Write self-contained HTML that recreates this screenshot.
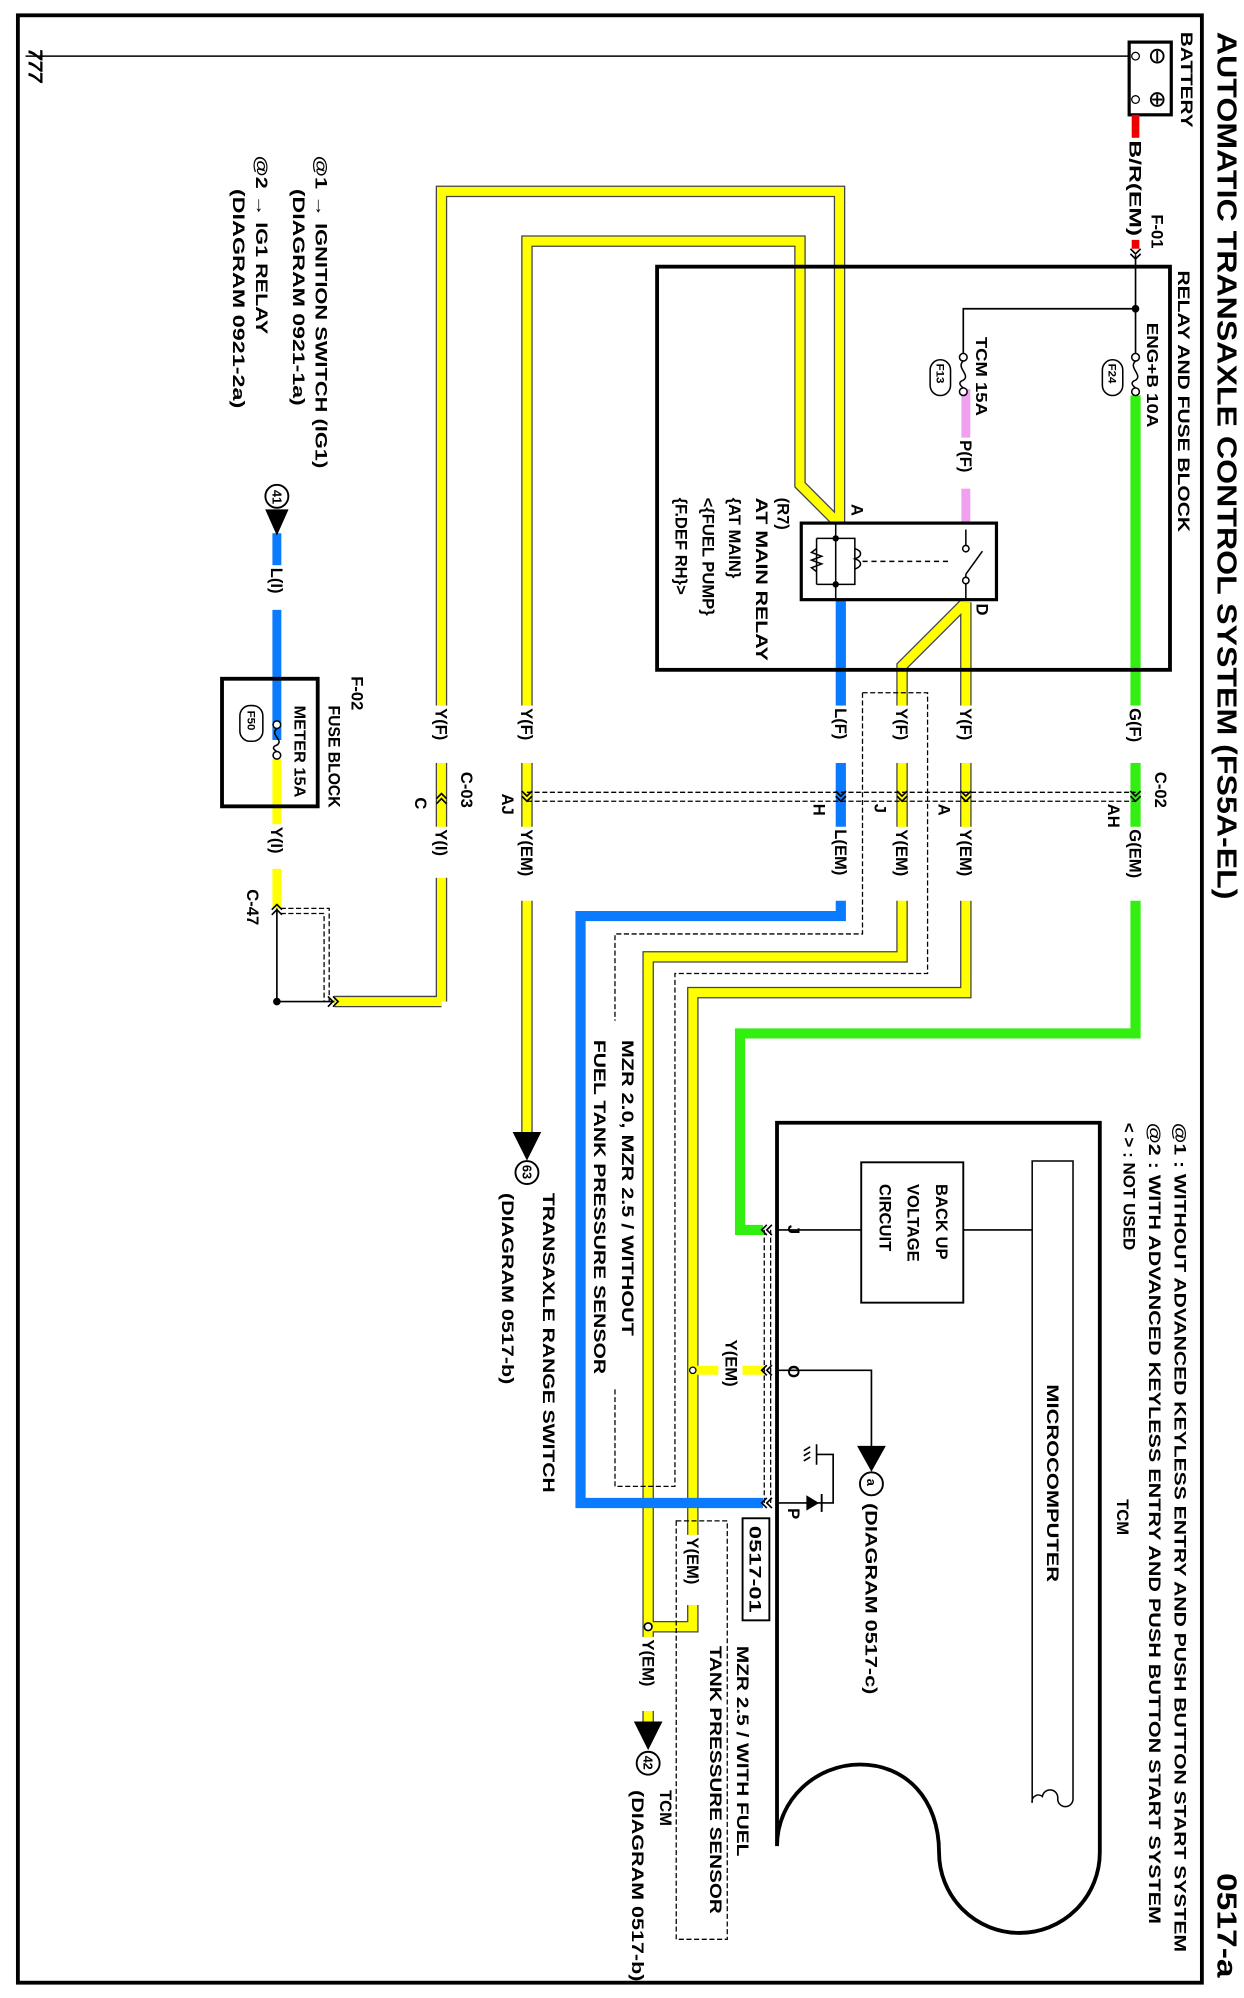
<!DOCTYPE html>
<html><head><meta charset="utf-8"><style>
html,body{margin:0;padding:0;background:#fff;}
svg{display:block;}
text{font-family:"Liberation Sans",sans-serif;font-weight:bold;fill:#000;}
</style></head><body>
<svg width="1244" height="1998" viewBox="0 0 975 1566" xmlns="http://www.w3.org/2000/svg">
<defs>
<g id="chevD"><polyline points="-4,-5 0,-1 4,-5" fill="none" stroke="#000" stroke-width="1.3"/><polyline points="-4,-1 0,3 4,-1" fill="none" stroke="#000" stroke-width="1.3"/></g>
<g id="chevL"><polyline points="5,-4 1,0 5,4" fill="none" stroke="#000" stroke-width="1.3"/><polyline points="9,-4 5,0 9,4" fill="none" stroke="#000" stroke-width="1.3"/></g>
</defs>
<rect x="14" y="12" width="928" height="1542" fill="none" stroke="#000" stroke-width="3"/>

<line x1="20" y1="44" x2="885" y2="44" stroke="#000" stroke-width="1.2"/>
<rect x="885" y="33" width="33" height="57" fill="#fff" stroke="#000" stroke-width="2.5"/>
<circle cx="890" cy="44" r="3" fill="#fff" stroke="#000"/><circle cx="890" cy="78" r="3" fill="#fff" stroke="#000"/>
<circle cx="907" cy="44" r="5" fill="none" stroke="#000" stroke-width="1.5"/><line x1="907" y1="40" x2="907" y2="48" stroke="#000" stroke-width="1.5"/>
<circle cx="907" cy="78" r="5" fill="none" stroke="#000" stroke-width="1.5"/><line x1="907" y1="74" x2="907" y2="82" stroke="#000" stroke-width="1.5"/><line x1="903" y1="78" x2="911" y2="78" stroke="#000" stroke-width="1.5"/>
<line x1="890" y1="90" x2="890" y2="195" stroke="#e00" stroke-width="6"/>
<use href="#chevD" x="890" y="200"/>

<g fill="none" stroke-linejoin="miter">
<path d="M346,785 L346,150 L658,150 L658,410" stroke="#444" stroke-width="9"/>
<path d="M413,900 L413,189 L627,189 L627,380 L655,408" stroke="#444" stroke-width="9"/>
<path d="M757,472 L707,522 L707,750 L508,750 L508,1360" stroke="#444" stroke-width="9"/>
<path d="M757,472 L757,778 L543,778 L543,1275 L508,1275" stroke="#444" stroke-width="9"/>
<path d="M262,785 L346,785" stroke="#444" stroke-width="9"/>
<path d="M346,785 L346,150 L658,150 L658,410" stroke="#ff0" stroke-width="7"/>
<path d="M413,900 L413,189 L627,189 L627,380 L655,408" stroke="#ff0" stroke-width="7"/>
<path d="M757,472 L707,522 L707,750 L508,750 L508,1360" stroke="#ff0" stroke-width="7"/>
<path d="M757,472 L757,778 L543,778 L543,1275 L508,1275" stroke="#ff0" stroke-width="7"/>
<path d="M262,785 L346,785" stroke="#ff0" stroke-width="7"/>
<line x1="543" y1="1074" x2="563" y2="1074" stroke="#ff0" stroke-width="7"/>
<line x1="582" y1="1074" x2="598" y2="1074" stroke="#ff0" stroke-width="7"/>
<line x1="217" y1="595" x2="217" y2="712" stroke="#ff0" stroke-width="7"/>
<path d="M659,470 L659,718 L455,718 L455,1178 L598,1178" stroke="#0a7bff" stroke-width="8"/>
<line x1="217" y1="418" x2="217" y2="580" stroke="#0a7bff" stroke-width="7"/>
<path d="M890,310 L890,810 L580,810 L580,964 L598,964" stroke="#33ee11" stroke-width="8"/>
<line x1="757" y1="305" x2="757" y2="415" stroke="#f0a0f0" stroke-width="7"/>
</g>

<g fill="#fff">
<rect x="880" y="108" width="20" height="80"/>
<rect x="750" y="343" width="16" height="40"/>
<rect x="880" y="553" width="22" height="45"/><rect x="880" y="648" width="22" height="58"/>
<rect x="748" y="553" width="20" height="45"/><rect x="748" y="648" width="20" height="58"/>
<rect x="698" y="553" width="20" height="45"/><rect x="698" y="648" width="20" height="58"/>
<rect x="650" y="553" width="20" height="45"/><rect x="650" y="648" width="20" height="58"/>
<rect x="404" y="553" width="20" height="45"/><rect x="404" y="648" width="20" height="58"/>
<rect x="337" y="553" width="20" height="45"/><rect x="337" y="648" width="20" height="40"/>
<rect x="208" y="443" width="20" height="35"/><rect x="208" y="646" width="20" height="35"/>
<rect x="534" y="1203" width="20" height="55"/><rect x="499" y="1283" width="20" height="58"/>
</g>

<rect x="515" y="209" width="402" height="316" fill="none" stroke="#000" stroke-width="3"/>
<polyline points="890,200 890,277" fill="none" stroke="#000" stroke-width="1.3"/>
<polyline points="755,277 755,242 890,242" fill="none" stroke="#000" stroke-width="1.3"/>
<circle cx="890" cy="242" r="3"/>
<g fill="#fff" stroke="#000" stroke-width="1.2">
<circle cx="890" cy="280" r="3"/><circle cx="890" cy="307" r="3"/>
<path d="M890,283 C884,288 896,294 890,298 C884,300 890,304 890,304" fill="none"/>
<circle cx="755" cy="280" r="3"/><circle cx="755" cy="307" r="3"/>
<path d="M755,283 C749,288 761,294 755,298 C749,300 755,304 755,304" fill="none"/>
<circle cx="217" cy="568" r="3"/><circle cx="217" cy="592" r="3"/>
<path d="M217,571 C211,576 223,580 217,584 C211,586 217,589 217,589" fill="none"/>
<rect x="864" y="282" width="16" height="28" rx="8"/>
<rect x="729" y="282" width="16" height="28" rx="8"/>
<rect x="188" y="553" width="18" height="28" rx="8"/>
</g>
<rect x="628" y="410" width="153" height="60" fill="#fff" stroke="#000" stroke-width="2.5"/>
<g fill="none" stroke="#000" stroke-width="1.2">
<line x1="655" y1="410" x2="655" y2="470"/>
<path d="M640,422 L640,458 M640,422 L670,422 L670,458 L640,458"/>
<path d="M640,430 l-4,3 l8,3 l-8,3 l8,3 l-8,3 l4,3"/>
<path d="M670,430 c6,2 6,6 0,8 c6,2 6,6 0,8"/>
<line x1="676" y1="440" x2="745" y2="440" stroke-dasharray="4,3"/>
<line x1="757" y1="415" x2="757" y2="430"/><line x1="757" y1="450" x2="757" y2="470"/>
<line x1="757" y1="450" x2="770" y2="432"/>
<circle cx="757" cy="430" r="2.5" fill="#fff"/><circle cx="757" cy="455" r="2.5" fill="#fff"/>
</g>
<circle cx="655" cy="422" r="2.5"/><circle cx="655" cy="458" r="2.5"/>

<g stroke="#000" stroke-width="1" stroke-dasharray="4,2" fill="none">
<line x1="413" y1="621" x2="890" y2="621"/><line x1="413" y1="628" x2="890" y2="628"/>
<path d="M676,543 L727,543 L727,763 L529,763 L529,1165 L482,1165 L482,1087"/>
<path d="M676,543 L676,732 L482,732 L482,800"/>
<rect x="530" y="1192" width="40" height="328"/>
<line x1="599" y1="964" x2="599" y2="1178"/><line x1="604" y1="964" x2="604" y2="1178"/>
<path d="M220,712 L258,712 L258,785"/><path d="M220,716 L254,716 L254,785"/>
</g>
<g>
<use href="#chevD" x="890" y="625"/><use href="#chevD" x="757" y="625"/><use href="#chevD" x="707" y="625"/>
<use href="#chevD" x="659" y="625"/><use href="#chevD" x="413" y="625"/>
<g transform="translate(346,625) rotate(180)"><use href="#chevD"/></g>
<g transform="translate(217,712) rotate(180)"><use href="#chevD"/></g>
<g transform="translate(266,785) rotate(180)"><use href="#chevL"/></g>
<use href="#chevL" x="596" y="964"/><use href="#chevL" x="596" y="1074"/><use href="#chevL" x="596" y="1178"/>
</g>
<polyline points="217,712 217,785 262,785" fill="none" stroke="#000" stroke-width="1.3"/>
<circle cx="217" cy="785" r="3"/>

<rect x="174" y="532" width="75" height="100" fill="none" stroke="#000" stroke-width="3"/>

<g stroke="#000" stroke-width="1.5">
<circle cx="217" cy="389" r="9" fill="#fff"/><polygon points="209,400 225,400 217,418" fill="#000"/>
<polygon points="403,888 423,888 413,908" fill="#000"/><circle cx="413" cy="919" r="9" fill="#fff"/>
<polygon points="498,1350 518,1350 508,1370" fill="#000"/><circle cx="508" cy="1382" r="9" fill="#fff"/>
<polygon points="673,1134 693,1134 683,1152" fill="#000"/><circle cx="683" cy="1163" r="9" fill="#fff"/>
</g>
<circle cx="543" cy="1074" r="2.5" fill="#fff" stroke="#000"/><circle cx="508" cy="1275" r="3" fill="#fff" stroke="#000" stroke-width="1.3"/>

<path d="M609,880 L862,880 L862,1452 A63,63 0 0 1 736,1452 C736,1410 710,1383 674,1383 C640,1383 609,1410 609,1447 Z" fill="none" stroke="#000" stroke-width="3"/>
<path d="M809,910 L841,910 L841,1410 A6,6 0 0 1 829,1410 A6,6 0 0 0 817,1408 A5,5 0 0 0 809,1413 Z" fill="none" stroke="#000" stroke-width="1.2"/>
<rect x="675" y="911" width="80" height="110" fill="none" stroke="#000" stroke-width="1.5"/>
<g fill="none" stroke="#000" stroke-width="1.3">
<line x1="609" y1="964" x2="675" y2="964"/><line x1="755" y1="964" x2="809" y2="964"/>
<polyline points="609,1074 683,1074 683,1134"/>
<polyline points="609,1178 653,1178 653,1140 640,1140"/>
<path d="M640,1132 L640,1148 M635,1134 l-5,3 M635,1138 l-5,3 M635,1142 l-5,3"/>
</g>
<polygon points="632,1172 632,1184 642,1178" fill="#000"/><line x1="644" y1="1171" x2="644" y2="1185" stroke="#000" stroke-width="1.5"/>
<rect x="582" y="1190" width="21" height="80" fill="none" stroke="#000" stroke-width="1.5"/>

<g font-size="13">
<text transform="translate(962,25) rotate(90)" dy="0.35em" font-size="22" font-weight="normal" textLength="680" lengthAdjust="spacingAndGlyphs">AUTOMATIC TRANSAXLE CONTROL SYSTEM (FS5A-EL)</text>
<text transform="translate(962,1468) rotate(90)" dy="0.35em" font-size="22" font-weight="normal" textLength="82" lengthAdjust="spacingAndGlyphs">0517-a</text>
<text transform="translate(28,38) rotate(90)" dy="0.35em" font-size="16" font-style="italic">777</text>
<text transform="translate(930,25) rotate(90)" dy="0.35em" textLength="75" lengthAdjust="spacingAndGlyphs">BATTERY</text>
<text transform="translate(890,110) rotate(90)" dy="0.35em" textLength="75" lengthAdjust="spacingAndGlyphs">B/R(EM)</text>
<text transform="translate(907,168) rotate(90)" dy="0.35em">F-01</text>
<text transform="translate(928,212) rotate(90)" dy="0.35em" textLength="205" lengthAdjust="spacingAndGlyphs">RELAY AND FUSE BLOCK</text>
<text transform="translate(903,253) rotate(90)" dy="0.35em" font-size="12" textLength="82" lengthAdjust="spacingAndGlyphs">ENG+B 10A</text>
<text transform="translate(872,285) rotate(90)" dy="0.35em" font-size="9">F24</text>
<text transform="translate(769,264) rotate(90)" dy="0.35em" font-size="12" textLength="62" lengthAdjust="spacingAndGlyphs">TCM 15A</text>
<text transform="translate(737,285) rotate(90)" dy="0.35em" font-size="9">F13</text>
<text transform="translate(757,345) rotate(90)" dy="0.35em">P(F)</text>
<text transform="translate(672,395) rotate(90)" dy="0.35em">A</text>
<text transform="translate(770,473) rotate(90)" dy="0.35em">D</text>
<text transform="translate(614,390) rotate(90)" dy="0.35em">(R7)</text>
<text transform="translate(597,390) rotate(90)" dy="0.35em" textLength="128" lengthAdjust="spacingAndGlyphs">AT MAIN RELAY</text>
<text transform="translate(576,390) rotate(90)" dy="0.35em">{AT MAIN}</text>
<text transform="translate(555,390) rotate(90)" dy="0.35em">&lt;{FUEL PUMP}</text>
<text transform="translate(534,390) rotate(90)" dy="0.35em">{F.DEF RH}&gt;</text>

<text transform="translate(890,555) rotate(90)" dy="0.35em">G(F)</text>
<text transform="translate(910,605) rotate(90)" dy="0.35em">C-02</text>
<text transform="translate(873,630) rotate(90)" dy="0.35em">AH</text>
<text transform="translate(890,650) rotate(90)" dy="0.35em">G(EM)</text>
<text transform="translate(757,555) rotate(90)" dy="0.35em">Y(F)</text>
<text transform="translate(740,630) rotate(90)" dy="0.35em">A</text>
<text transform="translate(757,650) rotate(90)" dy="0.35em">Y(EM)</text>
<text transform="translate(707,555) rotate(90)" dy="0.35em">Y(F)</text>
<text transform="translate(690,630) rotate(90)" dy="0.35em">J</text>
<text transform="translate(707,650) rotate(90)" dy="0.35em">Y(EM)</text>
<text transform="translate(659,555) rotate(90)" dy="0.35em">L(F)</text>
<text transform="translate(642,630) rotate(90)" dy="0.35em">H</text>
<text transform="translate(659,650) rotate(90)" dy="0.35em">L(EM)</text>
<text transform="translate(413,555) rotate(90)" dy="0.35em">Y(F)</text>
<text transform="translate(398,622) rotate(90)" dy="0.35em">AJ</text>
<text transform="translate(413,650) rotate(90)" dy="0.35em">Y(EM)</text>
<text transform="translate(346,555) rotate(90)" dy="0.35em">Y(F)</text>
<text transform="translate(366,605) rotate(90)" dy="0.35em">C-03</text>
<text transform="translate(330,625) rotate(90)" dy="0.35em">C</text>
<text transform="translate(346,650) rotate(90)" dy="0.35em">Y(I)</text>

<text transform="translate(252,122) rotate(90)" dy="0.35em" textLength="245" lengthAdjust="spacingAndGlyphs">@1 → IGNITION SWITCH (IG1)</text>
<text transform="translate(234,148) rotate(90)" dy="0.35em" textLength="170" lengthAdjust="spacingAndGlyphs">(DIAGRAM 0921-1a)</text>
<text transform="translate(205,122) rotate(90)" dy="0.35em" textLength="140" lengthAdjust="spacingAndGlyphs">@2 → IG1 RELAY</text>
<text transform="translate(187,148) rotate(90)" dy="0.35em" textLength="172" lengthAdjust="spacingAndGlyphs">(DIAGRAM 0921-2a)</text>
<text transform="translate(217,384) rotate(90)" dy="0.35em" font-size="10">41</text>
<text transform="translate(217,445) rotate(90)" dy="0.35em">L(I)</text>
<text transform="translate(280,530) rotate(90)" dy="0.35em">F-02</text>
<text transform="translate(262,553) rotate(90)" dy="0.35em" textLength="80" lengthAdjust="spacingAndGlyphs">FUSE BLOCK</text>
<text transform="translate(235,553) rotate(90)" dy="0.35em" font-size="12" textLength="72" lengthAdjust="spacingAndGlyphs">METER 15A</text>
<text transform="translate(197,557) rotate(90)" dy="0.35em" font-size="9">F50</text>
<text transform="translate(217,648) rotate(90)" dy="0.35em">Y(I)</text>
<text transform="translate(198,697) rotate(90)" dy="0.35em">C-47</text>

<text transform="translate(413,913) rotate(90)" dy="0.35em" font-size="10">63</text>
<text transform="translate(430,935) rotate(90)" dy="0.35em" textLength="235" lengthAdjust="spacingAndGlyphs">TRANSAXLE RANGE SWITCH</text>
<text transform="translate(398,935) rotate(90)" dy="0.35em" textLength="150" lengthAdjust="spacingAndGlyphs">(DIAGRAM 0517-b)</text>
<text transform="translate(492,815) rotate(90)" dy="0.35em" textLength="232" lengthAdjust="spacingAndGlyphs">MZR 2.0, MZR 2.5 / WITHOUT</text>
<text transform="translate(470,815) rotate(90)" dy="0.35em" textLength="262" lengthAdjust="spacingAndGlyphs">FUEL TANK PRESSURE SENSOR</text>
<text transform="translate(573,1050) rotate(90)" dy="0.35em">Y(EM)</text>

<text transform="translate(925,880) rotate(90)" dy="0.35em" textLength="650" lengthAdjust="spacingAndGlyphs">@1 : WITHOUT ADVANCED KEYLESS ENTRY AND PUSH BUTTON START SYSTEM</text>
<text transform="translate(905,880) rotate(90)" dy="0.35em" textLength="628" lengthAdjust="spacingAndGlyphs">@2 : WITH ADVANCED KEYLESS ENTRY AND PUSH BUTTON START SYSTEM</text>
<text transform="translate(885,880) rotate(90)" dy="0.35em" textLength="100" lengthAdjust="spacingAndGlyphs">&lt; &gt; : NOT USED</text>
<text transform="translate(880,1175) rotate(90)" dy="0.35em">TCM</text>
<text transform="translate(825,1085) rotate(90)" dy="0.35em" textLength="155" lengthAdjust="spacingAndGlyphs">MICROCOMPUTER</text>
<text transform="translate(738,928) rotate(90)" dy="0.35em">BACK UP</text>
<text transform="translate(716,928) rotate(90)" dy="0.35em">VOLTAGE</text>
<text transform="translate(694,928) rotate(90)" dy="0.35em">CIRCUIT</text>
<text transform="translate(622,960) rotate(90)" dy="0.35em">J</text>
<text transform="translate(622,1070) rotate(90)" dy="0.35em">O</text>
<text transform="translate(622,1182) rotate(90)" dy="0.35em">P</text>
<text transform="translate(683,1159) rotate(90)" dy="0.35em" font-size="10">a</text>
<text transform="translate(683,1178) rotate(90)" dy="0.35em" textLength="150" lengthAdjust="spacingAndGlyphs">(DIAGRAM 0517-c)</text>
<text transform="translate(592,1196) rotate(90)" dy="0.35em" textLength="68" lengthAdjust="spacingAndGlyphs">0517-01</text>
<text transform="translate(543,1205) rotate(90)" dy="0.35em">Y(EM)</text>
<text transform="translate(582,1290) rotate(90)" dy="0.35em" textLength="165" lengthAdjust="spacingAndGlyphs">MZR 2.5 / WITH FUEL</text>
<text transform="translate(561,1290) rotate(90)" dy="0.35em" textLength="210" lengthAdjust="spacingAndGlyphs">TANK PRESSURE SENSOR</text>
<text transform="translate(508,1285) rotate(90)" dy="0.35em">Y(EM)</text>
<text transform="translate(508,1376) rotate(90)" dy="0.35em" font-size="10">42</text>
<text transform="translate(522,1403) rotate(90)" dy="0.35em">TCM</text>
<text transform="translate(500,1403) rotate(90)" dy="0.35em" textLength="150" lengthAdjust="spacingAndGlyphs">(DIAGRAM 0517-b)</text>
</g>
</svg>
</body></html>
